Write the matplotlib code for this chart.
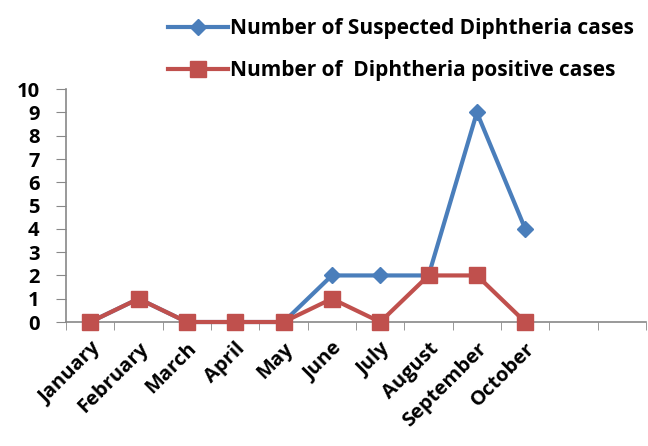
import matplotlib
matplotlib.use("Agg")
import matplotlib.pyplot as plt
from matplotlib.ticker import FixedLocator, MultipleLocator
from matplotlib.transforms import ScaledTranslation

# Monthly diphtheria counts
months = ['January', 'February', 'March', 'April', 'May', 'June',
          'July', 'August', 'September', 'October']
suspected = [0, 1, 0, 0, 0, 2, 2, 2, 9, 4]
positive = [0, 1, 0, 0, 0, 1, 0, 2, 2, 0]
n_slots = 12  # axis leaves room for November and December

BLUE = '#4a7ebb'
RED = '#c0504d'
AXIS = '#888888'

plt.rcParams['font.family'] = ['Open Sans', 'DejaVu Sans']
plt.rcParams['font.weight'] = 'bold'

fig = plt.figure(figsize=(6.48, 4.46), dpi=100)
ax = fig.add_axes([0.102, 0.278, 0.895, 0.522])

x = list(range(len(months)))
ax.plot(x, suspected, color=BLUE, lw=3, marker='D', ms=8,
        label='Number of Suspected Diphtheria cases', zorder=3, clip_on=False)
ax.plot(x, positive, color=RED, lw=3, marker='s', ms=11,
        label='Number of  Diphtheria positive cases', zorder=4, clip_on=False)

ax.set_xlim(-0.5, n_slots - 0.5)
ax.set_ylim(0, 10)
ax.yaxis.set_major_locator(MultipleLocator(1))

ax.set_xticks(x)
ax.set_xticklabels(months, rotation=45, ha='right', rotation_mode='anchor',
                   fontsize=14.5, fontweight='bold')
# nudge month labels a little left, like the original
shift = ScaledTranslation(-5 / 72, 0, fig.dpi_scale_trans)
for lab in ax.get_xticklabels():
    lab.set_transform(lab.get_transform() + shift)
ax.tick_params(axis='x', which='major', length=0, pad=12)
ax.xaxis.set_minor_locator(FixedLocator([i + 0.5 for i in range(-1, n_slots)]))
ax.tick_params(axis='x', which='minor', length=6, color=AXIS, direction='out')
ax.tick_params(axis='y', length=7, color=AXIS, labelsize=14.5, pad=12)
for lab in ax.get_yticklabels():
    lab.set_fontweight('bold')

for side in ('top', 'right'):
    ax.spines[side].set_visible(False)
for side in ('left', 'bottom'):
    ax.spines[side].set_color(AXIS)
    ax.spines[side].set_linewidth(1.2)

fig.legend(loc='upper left', bbox_to_anchor=(0.243, 0.982), frameon=False,
           prop={'size': 15, 'weight': 'bold'}, handlelength=2.9,
           handletextpad=0.1, labelspacing=1.0, borderpad=0)

fig.savefig('out.png', dpi=100)
